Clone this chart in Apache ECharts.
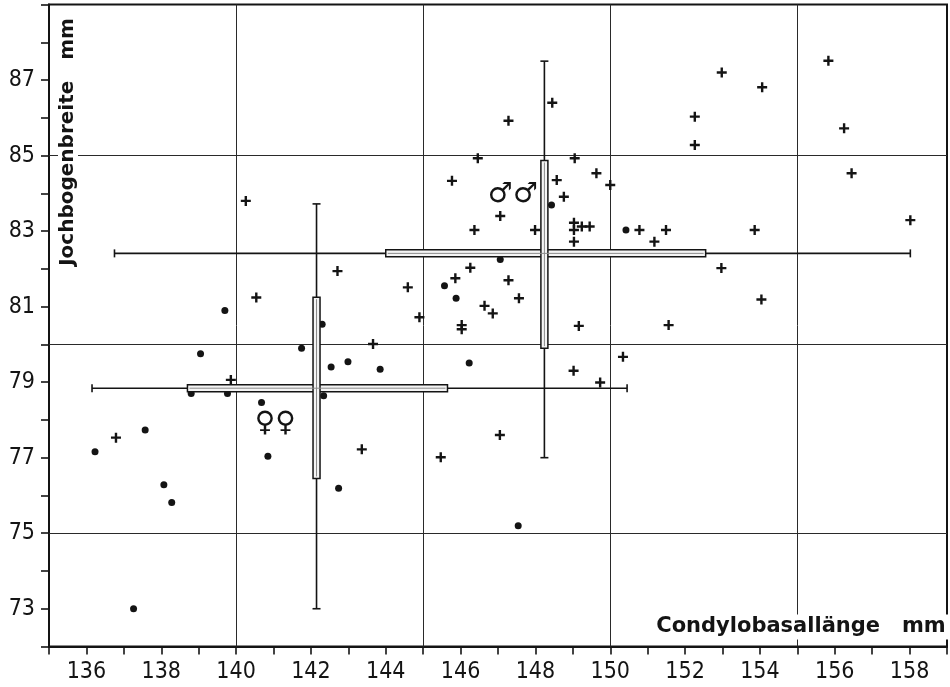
<!DOCTYPE html>
<html>
<head>
<meta charset="utf-8">
<script src="https://cdn.jsdelivr.net/npm/echarts@6/dist/echarts.min.js"></script>
<style>
  html, body { margin: 0; padding: 0; background: #fff; }
  #chart { width: 950px; height: 687px; }
</style>
</head>
<body>
<div id="chart"></div>
<script>
// Weibchen (Punkte) und Maennchen (Kreuze): [Condylobasallaenge, Jochbogenbreite]
var femalePoints = [
    [139.7, 80.9], [141.75, 79.9], [139.05, 79.75], [138.8, 78.7], [139.77, 78.7],
    [140.68, 78.46], [140.85, 77.04], [136.23, 77.16], [137.57, 77.73], [138.07, 76.28],
    [138.28, 75.81], [137.26, 73.0], [142.3, 80.53], [142.54, 79.4], [142.99, 79.54],
    [143.85, 79.34], [142.34, 78.64], [142.74, 76.19], [147.54, 75.2], [146.23, 79.51],
    [148.43, 83.69], [150.42, 83.03], [147.06, 82.25], [145.57, 81.55], [145.88, 81.22]
];
var malePoints = [
    [140.26, 83.8], [140.54, 81.24], [139.86, 79.06], [136.79, 77.53], [143.66, 80.01],
    [143.36, 77.22], [145.47, 77.01], [147.05, 77.6], [149.02, 79.3], [149.73, 78.99],
    [150.34, 79.67], [149.16, 80.49], [146.03, 80.51], [146.03, 80.4], [148.45, 86.4],
    [147.28, 85.92], [146.46, 84.93], [149.05, 84.93], [145.77, 84.33], [148.57, 84.35],
    [149.63, 84.53], [150.0, 84.22], [148.76, 83.91], [147.06, 83.4], [146.37, 83.03],
    [147.99, 83.03], [149.03, 83.22], [149.03, 83.03], [149.24, 83.12], [149.45, 83.12],
    [149.03, 82.72], [142.71, 81.94], [146.26, 82.03], [145.86, 81.75], [147.28, 81.7],
    [144.59, 81.51], [147.56, 81.22], [146.64, 81.02], [146.86, 80.82], [144.9, 80.72],
    [152.98, 87.2], [154.06, 86.81], [152.26, 86.03], [152.26, 85.28], [155.83, 87.51],
    [156.25, 85.72], [156.45, 84.53], [158.02, 83.29], [150.78, 83.03], [151.49, 83.03],
    [151.18, 82.72], [153.86, 83.03], [152.97, 82.02], [154.04, 81.19], [151.56, 80.51]
];
// Mittelwert, Variationsbreite und Kasten je Geschlecht
// [meanX, meanY, xMin, xMax, yMin, yMax, boxXMin, boxXMax, boxYMin, boxYMax]
var groupStats = [
    [142.15, 78.84, 136.15, 150.45, 73.0, 83.72, 138.7, 145.65, 76.45, 81.25],
    [148.24, 82.41, 136.75, 158.02, 77.0, 87.5, 144.0, 152.55, 79.9, 84.87]
];
var signLabels = [
    { name: '♀♀', value: [141.05, 77.9] },
    { name: '♂♂', value: [147.4, 83.96] }
];
var xGridLines = [140, 145, 150, 155];
var yGridLines = [75, 80, 85];

var ink = '#141414';
var numFont = "'DejaVu Sans Condensed', 'DejaVu Sans', sans-serif";

var gridMarks = xGridLines.map(function (v) { return { xAxis: v }; })
    .concat(yGridLines.map(function (v) { return { yAxis: v }; }));

function renderStats(params, api) {
    var mx = api.value(0), my = api.value(1);
    var c = api.coord([mx, my]);
    var xl = api.coord([api.value(2), my]), xr = api.coord([api.value(3), my]);
    var yb = api.coord([mx, api.value(4)]), yt = api.coord([mx, api.value(5)]);
    var bxl = api.coord([api.value(6), my]), bxr = api.coord([api.value(7), my]);
    var byb = api.coord([mx, api.value(8)]), byt = api.coord([mx, api.value(9)]);
    var half = 3.5, cap = 4;
    var lineStyle = { stroke: ink, lineWidth: 1.6 };
    function seg(x1, y1, x2, y2, st) {
        return { type: 'line', shape: { x1: x1, y1: y1, x2: x2, y2: y2 }, style: st || lineStyle };
    }
    var boxStyle = { fill: '#f4f4f4', stroke: ink, lineWidth: 1.5 };
    var midStyle = { stroke: '#8a8a8a', lineWidth: 1 };
    return {
        type: 'group',
        children: [
            seg(xl[0], c[1], xr[0], c[1]),
            seg(xl[0], c[1] - cap, xl[0], c[1] + cap),
            seg(xr[0], c[1] - cap, xr[0], c[1] + cap),
            seg(c[0], yb[1], c[0], yt[1]),
            seg(c[0] - cap, yb[1], c[0] + cap, yb[1]),
            seg(c[0] - cap, yt[1], c[0] + cap, yt[1]),
            { type: 'rect', shape: { x: bxl[0], y: c[1] - half, width: bxr[0] - bxl[0], height: half * 2 }, style: boxStyle },
            { type: 'rect', shape: { x: c[0] - half, y: byt[1], width: half * 2, height: byb[1] - byt[1] }, style: boxStyle },
            seg(bxl[0] + 2, c[1], bxr[0] - 2, c[1], midStyle),
            seg(c[0], byt[1] + 2, c[0], byb[1] - 2, midStyle)
        ]
    };
}

var chart = echarts.init(document.getElementById('chart'));
chart.setOption({
    backgroundColor: '#fff',
    animation: false,
    grid: {
        left: 49, right: 2, top: 4.5, bottom: 40.5,
        show: true, borderColor: ink, borderWidth: 2
    },
    xAxis: {
        type: 'value', min: 135, max: 159, interval: 1,
        axisLine: { lineStyle: { color: ink, width: 2 } },
        axisTick: { length: 8, lineStyle: { color: ink, width: 1.6 } },
        splitLine: { show: false },
        axisLabel: {
            margin: 14, color: ink, fontSize: 23, fontFamily: numFont,
            formatter: function (v) { return (v % 2 === 0 && v >= 136 && v <= 158) ? v : ''; }
        }
    },
    yAxis: {
        type: 'value', min: 72, max: 89, interval: 1,
        axisLine: { lineStyle: { color: ink, width: 2 } },
        axisTick: { length: 8, lineStyle: { color: ink, width: 1.6 } },
        splitLine: { show: false },
        axisLabel: {
            margin: 14, color: ink, fontSize: 23, fontFamily: numFont,
            formatter: function (v) { return (v % 2 === 1 && v >= 73 && v <= 87) ? v : ''; }
        }
    },
    graphic: [
        {
            type: 'text', z: 100, x: 68, y: 142, rotation: Math.PI / 2,
            style: {
                text: 'Jochbogenbreite   mm', fill: ink, font: "bold 20px 'DejaVu Sans', sans-serif",
                textAlign: 'center', textVerticalAlign: 'middle',
                backgroundColor: '#fff', padding: [0, 4]
            }
        },
        {
            type: 'text', z: 100, x: 801, y: 627,
            style: {
                text: 'Condylobasallänge   mm', fill: ink, font: "bold 21px 'DejaVu Sans', sans-serif",
                textAlign: 'center', textVerticalAlign: 'middle',
                backgroundColor: '#fff', padding: [2, 4]
            }
        }
    ],
    series: [
        {
            type: 'scatter', name: 'Weibchen', z: 3,
            symbol: 'circle', symbolSize: 7,
            itemStyle: { color: ink, opacity: 1 },
            data: femalePoints,
            markLine: {
                silent: true, symbol: 'none', z: 1,
                label: { show: false },
                lineStyle: { color: '#2a2a2a', width: 1, type: 'solid', opacity: 1 },
                data: gridMarks
            }
        },
        {
            type: 'scatter', name: 'Maennchen', z: 3,
            symbol: 'path://M3.8,0H6.2V3.8H10V6.2H6.2V10H3.8V6.2H0V3.8H3.8Z', symbolSize: 10,
            itemStyle: { color: ink, opacity: 1 },
            data: malePoints
        },
        {
            type: 'custom', name: 'Mittelwerte', z: 4,
            renderItem: renderStats,
            encode: { x: 0, y: 1 },
            data: groupStats
        },
        {
            type: 'scatter', name: 'Zeichen', z: 5,
            symbolSize: 0,
            itemStyle: { opacity: 1 },
            label: {
                show: true, position: 'inside', color: ink, fontSize: 28,
                fontFamily: "'DejaVu Sans', sans-serif",
                formatter: function (p) { return p.name; }
            },
            data: signLabels
        }
    ]
});
</script>
</body>
</html>
